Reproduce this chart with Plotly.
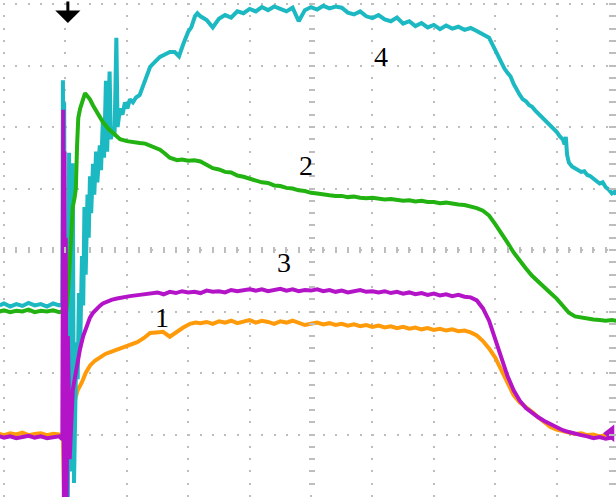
import plotly.graph_objects as go

# ---------------------------------------------------------------
# Oscilloscope capture, 4 channels. Units: screen divisions
# (10 horizontal x 8 vertical, bottom graticule line = 0).
# ---------------------------------------------------------------

# CH1 (orange)
ch1_t = [-0.07, 0.0, 0.1, 0.2, 0.3, 0.4, 0.5, 0.6, 0.7, 0.8, 0.9, 0.96,
         0.98, 1.02, 1.10, 1.16, 1.20, 1.27, 1.33, 1.40, 1.48, 1.56, 1.65, 1.73,
         1.84, 1.94, 2.05, 2.17, 2.28, 2.38, 2.48, 2.59, 2.70, 2.80, 2.92, 3.03,
         3.12, 3.20,
         3.3, 3.4, 3.5, 3.6, 3.7, 3.8, 3.9, 4.0, 4.1, 4.2, 4.3, 4.4, 4.5, 4.6,
         4.7, 4.8, 4.9, 5.0, 5.1, 5.2, 5.3, 5.4, 5.5, 5.6, 5.7, 5.8, 5.9, 6.0,
         6.1, 6.2, 6.3, 6.4, 6.5, 6.6, 6.7, 6.8, 6.9, 7.0, 7.1, 7.2, 7.3, 7.4,
         7.5, 7.6, 7.7, 7.8, 7.9, 8.0, 8.1, 8.2, 8.3, 8.4, 8.5, 8.6, 8.7, 8.8,
         8.9, 9.0, 9.1, 9.2, 9.3, 9.4, 9.5, 9.6, 9.7, 9.8, 9.9]
ch1_v = [1.01, 0.99, 1.02, 1.00, 1.03, 0.99, 1.01, 1.02, 0.99, 1.01, 1.00, 0.98,
         -0.05, 0.40, 1.05, 1.58, 1.72, 1.85, 2.00, 2.12, 2.20, 2.26, 2.31, 2.34,
         2.38, 2.42, 2.45, 2.50, 2.57, 2.65, 2.66, 2.67, 2.59, 2.66, 2.74, 2.80,
         2.82, 2.81,
         2.83, 2.80, 2.84, 2.82, 2.85, 2.81, 2.83, 2.86, 2.82, 2.85, 2.83, 2.80,
         2.84, 2.82, 2.85, 2.81, 2.78, 2.80, 2.82, 2.79, 2.81, 2.78, 2.80, 2.77,
         2.79, 2.76, 2.78, 2.75, 2.77, 2.74, 2.76, 2.73, 2.75, 2.72, 2.74, 2.71,
         2.73, 2.70, 2.72, 2.69, 2.71, 2.68, 2.69, 2.66, 2.61, 2.52, 2.40, 2.25,
         2.05, 1.82, 1.64, 1.52, 1.45, 1.37, 1.28, 1.19, 1.12, 1.08, 1.05, 1.03,
         1.01, 1.02, 0.99, 1.00, 0.97, 0.99, 0.98]

# CH2 (green)
ch2_t = [-0.07, 0.0, 0.1, 0.2, 0.3, 0.4, 0.5, 0.6, 0.7, 0.8, 0.9, 0.97,
         1.00, 1.03, 1.06, 1.09, 1.12, 1.15, 1.17, 1.19, 1.21, 1.24, 1.28, 1.32,
         1.36, 1.40, 1.45, 1.56, 1.61, 1.70, 1.78, 1.89, 2.00, 2.10, 2.21, 2.30,
         2.38, 2.46, 2.54, 2.62, 2.70, 2.82, 2.90, 3.00, 3.10,
         3.2, 3.3, 3.4, 3.5, 3.6, 3.7, 3.8, 3.9, 4.0, 4.1, 4.2, 4.3, 4.4, 4.5,
         4.6, 4.7, 4.8, 4.9, 5.0, 5.1, 5.2, 5.3, 5.4, 5.5, 5.6, 5.7, 5.8, 5.9,
         6.0, 6.1, 6.2, 6.3, 6.4, 6.5, 6.6, 6.7, 6.8, 6.9, 7.0, 7.1, 7.2, 7.3,
         7.4, 7.5, 7.6, 7.7, 7.8, 7.9, 8.0, 8.1, 8.2, 8.3, 8.4, 8.5, 8.6, 8.7,
         8.8, 8.9, 9.0, 9.1, 9.2, 9.3, 9.4, 9.5, 9.6, 9.7, 9.8, 9.9, 9.97]
ch2_v = [3.00, 3.02, 2.99, 3.01, 3.00, 3.03, 2.99, 3.01, 3.00, 3.02, 2.99, 3.01,
         2.86, 3.15, 3.60, 4.10, 4.70, 4.85, 5.00, 5.70, 6.15, 6.30, 6.42, 6.55,
         6.50, 6.45, 6.35, 6.15, 6.08, 5.97, 5.90, 5.80, 5.77, 5.75, 5.74, 5.73,
         5.70, 5.67, 5.63, 5.57, 5.50, 5.46, 5.47, 5.45, 5.46,
         5.44, 5.39, 5.33, 5.31, 5.27, 5.26, 5.21, 5.19, 5.16, 5.14, 5.10, 5.09,
         5.05, 5.04, 5.01, 5.00, 4.97, 4.96, 4.93, 4.92, 4.90, 4.89, 4.88, 4.88,
         4.86, 4.87, 4.85, 4.84, 4.85, 4.83, 4.82, 4.83, 4.81, 4.80, 4.81, 4.79,
         4.80, 4.78, 4.78, 4.76, 4.77, 4.75, 4.74, 4.73, 4.71, 4.68, 4.64, 4.56,
         4.42, 4.28, 4.12, 3.96, 3.82, 3.70, 3.58, 3.48, 3.38, 3.30, 3.21, 3.10,
         2.98, 2.92, 2.90, 2.88, 2.87, 2.86, 2.85, 2.86, 2.85]

# CH3 (magenta)
ch3_t = [-0.07, 0.0, 0.1, 0.2, 0.3, 0.4, 0.5, 0.6, 0.7, 0.8, 0.9, 0.95,
         0.965, 0.975, 0.985, 0.995, 1.005, 1.02, 1.04, 1.07, 1.10, 1.12, 1.16,
         1.19, 1.24, 1.29, 1.35, 1.40, 1.45, 1.50, 1.56, 1.61, 1.68, 1.75, 1.84,
         1.97, 2.05, 2.21, 2.30,
         2.4, 2.5, 2.6, 2.7, 2.8, 2.9, 3.0, 3.1, 3.2, 3.3, 3.4, 3.5, 3.6, 3.7,
         3.8, 3.9, 4.0, 4.1, 4.2, 4.3, 4.4, 4.5, 4.6, 4.7, 4.8, 4.9, 5.0, 5.1,
         5.2, 5.3, 5.4, 5.5, 5.6, 5.7, 5.8, 5.9, 6.0, 6.1, 6.2, 6.3, 6.4, 6.5,
         6.6, 6.7, 6.8, 6.9, 7.0, 7.1, 7.2, 7.3, 7.4, 7.5, 7.6, 7.7, 7.8, 7.9,
         8.0, 8.1, 8.2, 8.3, 8.4, 8.5, 8.6, 8.7, 8.8, 8.9, 9.0, 9.1, 9.2, 9.3,
         9.4, 9.5, 9.6, 9.7, 9.8, 9.9]
ch3_v = [0.97, 0.95, 0.97, 0.94, 0.96, 0.98, 0.95, 0.97, 0.94, 0.96, 0.97, 0.92,
         6.28, -0.05, 5.60, -0.05, 4.20, -0.05, 2.60, 0.60, 1.55, 1.72, 1.95,
         2.15, 2.40, 2.60, 2.78, 2.90, 2.98, 3.04, 3.09, 3.13, 3.16, 3.19, 3.21,
         3.24, 3.25, 3.27, 3.28,
         3.29, 3.31, 3.28, 3.32, 3.30, 3.33, 3.31, 3.32, 3.30, 3.34, 3.32, 3.33,
         3.31, 3.35, 3.33, 3.34, 3.36, 3.34, 3.36, 3.33, 3.35, 3.37, 3.34, 3.36,
         3.33, 3.35, 3.34, 3.36, 3.33, 3.35, 3.32, 3.34, 3.31, 3.33, 3.35, 3.32,
         3.33, 3.31, 3.33, 3.30, 3.32, 3.29, 3.31, 3.28, 3.30, 3.27, 3.29, 3.26,
         3.28, 3.25, 3.27, 3.24, 3.23, 3.18, 3.05, 2.85, 2.55, 2.22, 1.95, 1.72,
         1.55, 1.43, 1.35, 1.28, 1.22, 1.17, 1.12, 1.07, 1.04, 1.01, 0.99, 0.97,
         0.94, 0.96, 0.93, 0.95]

# CH4 (cyan)
ch4_t = [-0.07, 0.0, 0.1, 0.2, 0.3, 0.4, 0.5, 0.6, 0.7, 0.8, 0.9, 0.95,
         0.96, 0.97, 0.98, 0.99, 1.00, 1.02, 1.04, 1.06, 1.08, 1.10, 1.12, 1.14,
         1.16, 1.18, 1.20, 1.22, 1.24, 1.27, 1.29, 1.31, 1.33, 1.36, 1.38, 1.40,
         1.42, 1.45, 1.47, 1.50, 1.52, 1.56, 1.58, 1.61, 1.63, 1.66, 1.68, 1.72,
         1.74, 1.77, 1.80, 1.83, 1.85, 1.89, 1.93, 1.97, 2.01, 2.05, 2.10, 2.15,
         2.21, 2.30, 2.38, 2.45, 2.54, 2.62, 2.70, 2.78, 2.85, 2.92, 3.00, 3.05,
         3.11, 3.15,
         3.2, 3.3, 3.4, 3.5, 3.6, 3.7, 3.8, 3.9, 4.0, 4.1, 4.2, 4.3, 4.4, 4.5,
         4.6, 4.7, 4.8, 4.9, 5.0, 5.1, 5.2, 5.3, 5.4, 5.5, 5.6, 5.7, 5.8, 5.9,
         6.0, 6.1, 6.2, 6.3, 6.4, 6.5, 6.6, 6.7, 6.8, 6.9, 7.0, 7.1, 7.2, 7.3,
         7.4, 7.5, 7.6, 7.7, 7.8,
         7.9, 7.95, 8.0, 8.05, 8.1, 8.15, 8.2, 8.25, 8.3, 8.35, 8.4, 8.45, 8.5,
         8.55, 8.6, 8.65, 8.7, 8.75, 8.8, 8.85, 8.9, 8.95, 9.0, 9.05, 9.1, 9.13,
         9.15, 9.17, 9.2, 9.25, 9.3, 9.35, 9.4, 9.45, 9.5, 9.55, 9.6, 9.65, 9.7,
         9.75, 9.8, 9.85, 9.9, 9.95, 9.97]
ch4_v = [3.10, 3.13, 3.08, 3.12, 3.09, 3.14, 3.10, 3.12, 3.08, 3.13, 3.10, 3.12,
         6.76, 2.00, 6.40, 0.50, -0.05, 3.00, -0.05, 5.58, 0.40, 4.50, 5.41, 0.21,
         1.40, 2.50, 1.90, 3.30, 2.40, 3.90, 3.10, 4.70, 3.60, 4.90, 4.20, 5.20,
         4.60, 5.40, 4.90, 5.60, 5.10, 5.70, 5.30, 6.10, 5.50, 6.75, 5.60, 6.90,
         5.80, 6.00, 5.85, 7.45, 6.00, 6.30, 6.20, 6.40, 6.30, 6.45, 6.40, 6.48,
         6.52, 6.75, 6.98, 7.05, 7.14, 7.18, 7.22, 7.22, 7.15, 7.35, 7.55, 7.62,
         7.80, 7.85,
         7.80, 7.74, 7.62, 7.76, 7.82, 7.78, 7.88, 7.85, 7.92, 7.88, 7.95, 7.90,
         7.96, 7.92, 7.88, 7.94, 7.72, 7.90, 7.95, 7.91, 7.97, 7.93, 7.96, 7.94,
         7.86, 7.83, 7.88, 7.80, 7.77, 7.82, 7.75, 7.72, 7.78, 7.68, 7.72, 7.64,
         7.69, 7.62, 7.66, 7.59, 7.65, 7.60, 7.63, 7.58, 7.61, 7.56, 7.50,
         7.45, 7.35, 7.25, 7.12, 7.02, 6.95, 6.88, 6.82, 6.70, 6.60, 6.52, 6.45,
         6.42, 6.36, 6.33, 6.27, 6.22, 6.18, 6.12, 6.06, 6.02, 5.98, 5.92, 5.85,
         5.80, 5.72, 5.84, 5.55, 5.42, 5.36, 5.33, 5.30, 5.27, 5.28, 5.22, 5.20,
         5.16, 5.12, 5.08, 5.10, 5.02, 4.98, 4.92, 4.95, 4.90]

channel_names = ["1", "2", "3", "4"]
label_t = [2.57, 4.92, 4.56, 6.14]
label_v = [2.91, 5.37, 3.80, 7.15]

trigger_t = 1.04          # trigger position marker (top)
ch3_ground = 1.02         # CH3 reference-level marker (right edge)

COL = {"1": "#FF9B0A", "2": "#22B312", "3": "#B414C8", "4": "#1CB9C2"}
GRID = "#BDBDBD"

X_RANGE = [-0.0651, 9.967]
Y_RANGE = [-0.0163, 8.065]
W, H = 616, 497

fig = go.Figure()

# traces, bottom to top
for name, t, v in [("1", ch1_t, ch1_v), ("4", ch4_t, ch4_v),
                   ("2", ch2_t, ch2_v), ("3", ch3_t, ch3_v)]:
    fig.add_trace(go.Scatter(x=t, y=v, mode="lines", name=name,
                             line=dict(color=COL[name], width=4),
                             showlegend=False, hoverinfo="skip"))

# CH3 level marker at the right edge
fig.add_trace(go.Scatter(x=[X_RANGE[1] - 0.09], y=[ch3_ground], mode="markers",
                         marker=dict(symbol="triangle-left", size=15,
                                     color=COL["3"]),
                         showlegend=False, hoverinfo="skip", cliponaxis=False))

# channel numbers
for name, t, v in zip(channel_names, label_t, label_v):
    fig.add_annotation(x=t, y=v, text=name, showarrow=False,
                       font=dict(family="Liberation Serif", size=28,
                                 color="black"))

# trigger arrow
fig.add_annotation(x=trigger_t, y=7.69, ax=0, ay=-23, text="",
                   showarrow=True, arrowhead=1, arrowsize=1.4, arrowwidth=3,
                   arrowcolor="black")

# invisible traces that carry the centre graticule axes
fig.add_trace(go.Scatter(x=[None], y=[None], xaxis="x2", yaxis="y",
                         showlegend=False, hoverinfo="skip"))
fig.add_trace(go.Scatter(x=[None], y=[None], xaxis="x", yaxis="y2",
                         showlegend=False, hoverinfo="skip"))

dot = "0px,3px,2px,7.3px"
px_c = (5 - X_RANGE[0]) / (X_RANGE[1] - X_RANGE[0])
py_c = (4 - Y_RANGE[0]) / (Y_RANGE[1] - Y_RANGE[0])

fig.update_layout(
    width=W, height=H, margin=dict(l=0, r=0, t=0, b=0),
    paper_bgcolor="white", plot_bgcolor="white",
    xaxis=dict(range=X_RANGE, tickmode="linear", tick0=0, dtick=1,
               showgrid=True, gridcolor=GRID, gridwidth=2, griddash=dot,
               showticklabels=False, zeroline=False, showline=False,
               ticks=""),
    yaxis=dict(range=Y_RANGE, tickmode="linear", tick0=0, dtick=1,
               showgrid=True, gridcolor=GRID, gridwidth=2, griddash=dot,
               showticklabels=False, zeroline=False, showline=False,
               side="right", ticks="inside", ticklen=7, tickwidth=2,
               tickcolor=GRID,
               minor=dict(tickmode="linear", tick0=0, dtick=0.2,
                          ticks="inside", ticklen=7, tickwidth=2,
                          tickcolor=GRID, showgrid=False)),
    xaxis2=dict(range=X_RANGE, overlaying="x", anchor="free",
                position=py_c - 3 / H, side="bottom",
                tickmode="linear", tick0=0, dtick=0.2, ticks="inside",
                ticklen=6, tickwidth=2, tickcolor=GRID,
                showgrid=False, showticklabels=False, zeroline=False,
                showline=False),
    yaxis2=dict(range=Y_RANGE, overlaying="y", anchor="free",
                position=px_c - 3 / W, side="left",
                tickmode="linear", tick0=0, dtick=0.2, ticks="inside",
                ticklen=6, tickwidth=2, tickcolor=GRID,
                showgrid=False, showticklabels=False, zeroline=False,
                showline=False),
)

fig.write_html("out.html")
